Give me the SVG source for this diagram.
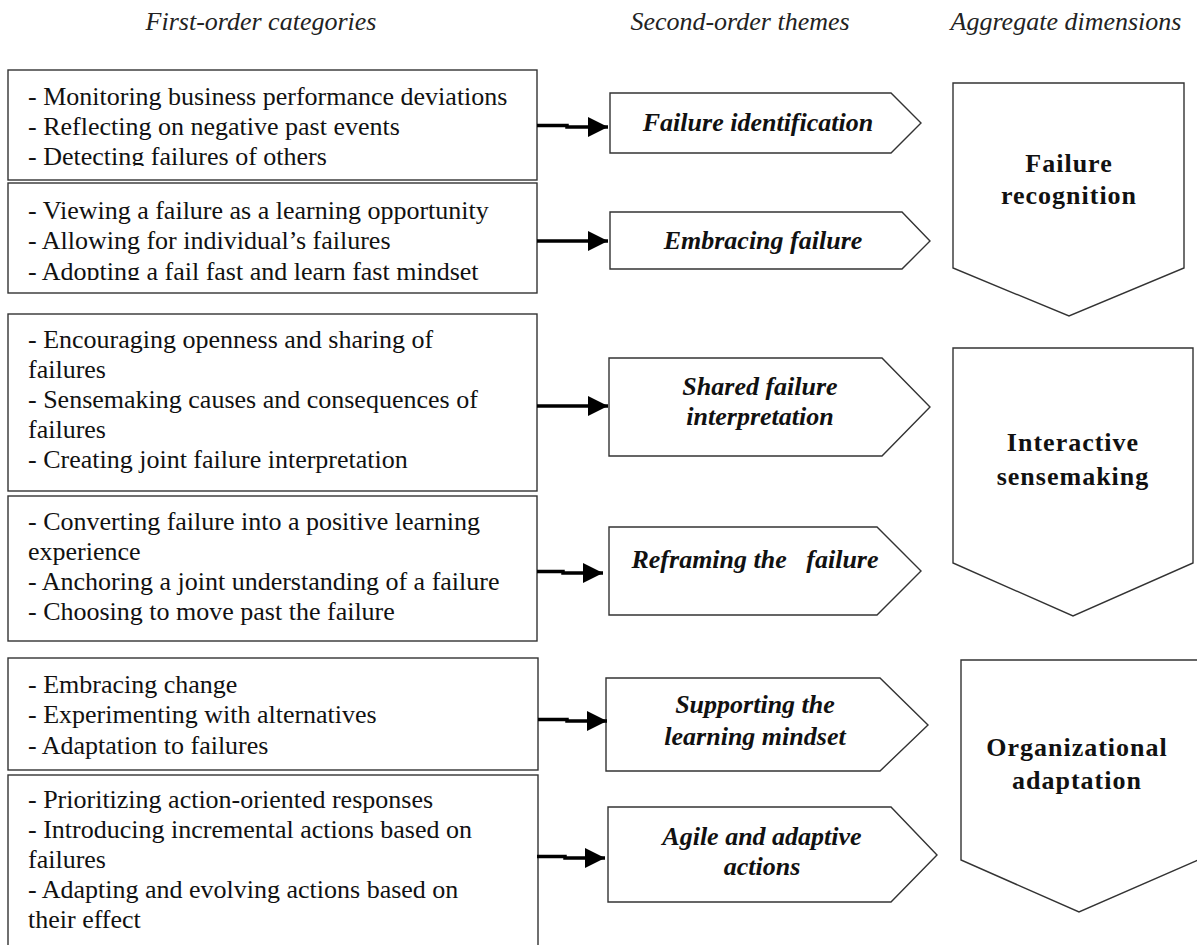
<svg xmlns="http://www.w3.org/2000/svg" width="1197" height="945" viewBox="0 0 1197 945">
<style>
.bg{fill:#ffffff}
.box{fill:#ffffff;stroke:#333;stroke-width:1.4}
.shape{fill:#ffffff;stroke:#333;stroke-width:1.4}
.hdr{font-family:"Liberation Serif","Times New Roman",serif;font-style:italic;font-size:26px;fill:#222;text-anchor:middle}
.item{font-family:"Liberation Serif","Times New Roman",serif;font-size:26px;fill:#111}
.theme{font-family:"Liberation Serif","Times New Roman",serif;font-style:italic;font-weight:bold;font-size:26px;fill:#111;text-anchor:middle}
.dim{font-family:"Liberation Serif","Times New Roman",serif;font-weight:bold;font-size:26px;letter-spacing:1px;fill:#111;text-anchor:middle}
.arrow{fill:none;stroke:#000;stroke-width:3.5}
</style>
<defs>
<marker id="head" markerUnits="userSpaceOnUse" markerWidth="22" markerHeight="22" refX="20" refY="10" orient="auto">
<path d="M0,0 L20,10 L0,20 Z" fill="#000"/>
</marker>
<clipPath id="clip1"><rect x="8" y="70" width="529" height="96"/></clipPath>
<clipPath id="clip2"><rect x="8" y="183" width="529" height="97"/></clipPath>
</defs>
<rect class="bg" x="0" y="0" width="1197" height="945"/>

<g id="headers">
<text class="hdr" x="261" y="30">First-order categories</text>
<text class="hdr" x="740" y="30">Second-order themes</text>
<text class="hdr" x="1066" y="30">Aggregate dimensions</text>
</g>

<g id="box1">
<rect class="box" x="8" y="70" width="529" height="110"/>
<g clip-path="url(#clip1)">
<text class="item" x="28" y="105">- Monitoring business performance deviations</text>
<text class="item" x="28" y="135">- Reflecting on negative past events</text>
<text class="item" x="28" y="165">- Detecting failures of others</text>
</g>
</g>
<g id="box2">
<rect class="box" x="8" y="183" width="529" height="110"/>
<g clip-path="url(#clip2)">
<text class="item" x="28" y="219">- Viewing a failure as a learning opportunity</text>
<text class="item" x="28" y="249">- Allowing for individual’s failures</text>
<text class="item" x="28" y="280">- Adopting a fail fast and learn fast mindset</text>
</g>
</g>
<g id="box3">
<rect class="box" x="8" y="314" width="529" height="177"/>
<text class="item" x="28" y="348">- Encouraging openness and sharing of</text>
<text class="item" x="28" y="378">failures</text>
<text class="item" x="28" y="408">- Sensemaking causes and consequences of</text>
<text class="item" x="28" y="438">failures</text>
<text class="item" x="28" y="468">- Creating joint failure interpretation</text>
</g>
<g id="box4">
<rect class="box" x="8" y="496" width="529" height="145"/>
<text class="item" x="28" y="530">- Converting failure into a positive learning</text>
<text class="item" x="28" y="560">experience</text>
<text class="item" x="28" y="590">- Anchoring a joint understanding of a failure</text>
<text class="item" x="28" y="620">- Choosing to move past the failure</text>
</g>
<g id="box5">
<rect class="box" x="8" y="658" width="530" height="112"/>
<text class="item" x="28" y="693">- Embracing change</text>
<text class="item" x="28" y="723">- Experimenting with alternatives</text>
<text class="item" x="28" y="754">- Adaptation to failures</text>
</g>
<g id="box6">
<rect class="box" x="8" y="775" width="530" height="190"/>
<text class="item" x="28" y="808">- Prioritizing action-oriented responses</text>
<text class="item" x="28" y="838">- Introducing incremental actions based on</text>
<text class="item" x="28" y="868">failures</text>
<text class="item" x="28" y="898">- Adapting and evolving actions based on</text>
<text class="item" x="28" y="928">their effect</text>
</g>

<g id="theme1">
<polygon class="shape" points="610,93 891,93 921,123 891,153 610,153"/>
<text class="theme" x="758" y="131">Failure identification</text>
</g>
<g id="theme2">
<polygon class="shape" points="610,212 902,212 930,241 902,269 610,269"/>
<text class="theme" x="763" y="249">Embracing failure</text>
</g>
<g id="theme3">
<polygon class="shape" points="609,358 882,358 930,407 882,456 609,456"/>
<text class="theme" x="760" y="395">Shared failure</text>
<text class="theme" x="760" y="425">interpretation</text>
</g>
<g id="theme4">
<polygon class="shape" points="609,527 877,527 921,571 877,615 609,615"/>
<text class="theme" x="755" y="568" xml:space="preserve">Reframing the   failure</text>
</g>
<g id="theme5">
<polygon class="shape" points="606,678 880,678 928,725 880,771 606,771"/>
<text class="theme" x="755" y="713">Supporting the</text>
<text class="theme" x="755" y="745">learning mindset</text>
</g>
<g id="theme6">
<polygon class="shape" points="608,807 891,807 937,855 891,902 608,902"/>
<text class="theme" x="762" y="845">Agile and adaptive</text>
<text class="theme" x="762" y="875">actions</text>
</g>

<g id="dim1">
<polygon class="shape" points="953,83 1184,83 1184,268 1069,316 953,268"/>
<text class="dim" x="1069" y="172">Failure</text>
<text class="dim" x="1069" y="204">recognition</text>
</g>
<g id="dim2">
<polygon class="shape" points="953,348 1193,348 1193,563 1073,616 953,563"/>
<text class="dim" x="1073" y="451">Interactive</text>
<text class="dim" x="1073" y="485">sensemaking</text>
</g>
<g id="dim3">
<polygon class="shape" points="961,660 1198,660 1198,860 1079,912 961,860"/>
<text class="dim" x="1077" y="756">Organizational</text>
<text class="dim" x="1077" y="789">adaptation</text>
</g>

<g id="connectors">
<path class="arrow" d="M537,125.5 H567 V127 H608" marker-end="url(#head)"/>
<path class="arrow" d="M537,241 H608" marker-end="url(#head)"/>
<path class="arrow" d="M537,406 H608" marker-end="url(#head)"/>
<path class="arrow" d="M537,571.5 H563 V573 H603" marker-end="url(#head)"/>
<path class="arrow" d="M538,719.5 H567 V721 H607" marker-end="url(#head)"/>
<path class="arrow" d="M537,856.5 H565 V858 H605" marker-end="url(#head)"/>
</g>
</svg>
